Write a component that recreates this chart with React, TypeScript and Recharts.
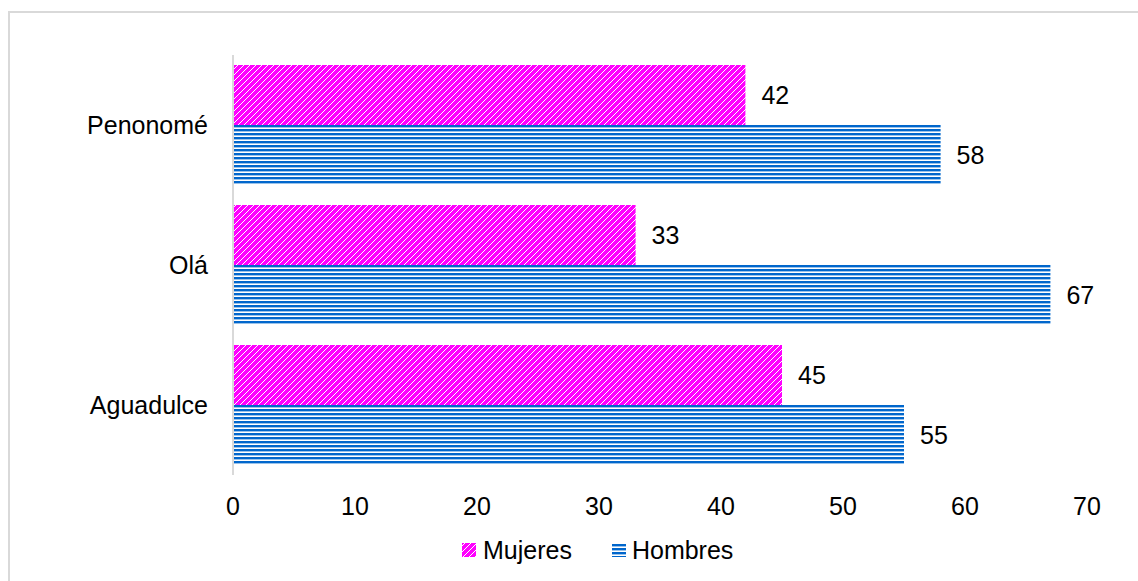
import React from "react";
import { BarChart, Bar, XAxis, YAxis, LabelList } from "recharts";

const towns = ["Penonomé", "Olá", "Aguadulce"];
const mujeres = [42, 33, 45];
const hombres = [58, 67, 55];
const xTicks = [0, 10, 20, 30, 40, 50, 60, 70];

const FONT = "'Liberation Sans', Arial, sans-serif";
const PINK = "#FF00FF";
const BLUE = "#0066CC";

export default function App() {
  const data = towns.map((t, i) => ({
    town: t,
    mujeres: mujeres[i],
    hombres: hombres[i],
  }));

  return (
    <div
      style={{
        position: "fixed",
        top: 0,
        left: 0,
        width: 1138,
        height: 581,
        overflow: "hidden",
        background: "#fff",
        fontFamily: FONT,
      }}
    >
      <svg width={0} height={0} style={{ position: "absolute" }}>
        <defs>
          <pattern
            id="diagPink"
            patternUnits="userSpaceOnUse"
            width={6}
            height={6}
          >
            <rect width={6} height={6} fill="#fff" />
            <path
              d="M-1,1 l2,-2 M0,6 l6,-6 M5,7 l2,-2"
              stroke={PINK}
              strokeWidth={3}
              shapeRendering="crispEdges"
            />
          </pattern>
          <pattern
            id="horizBlue"
            patternUnits="userSpaceOnUse"
            width={4}
            height={4}
          >
            <rect width={4} height={4} fill="#fff" />
            <rect y={1} width={4} height={2.4} fill={BLUE} />
          </pattern>
        </defs>
      </svg>

      {/* outer chart frame */}
      <div
        style={{
          position: "absolute",
          left: 8,
          top: 11,
          width: 1200,
          height: 700,
          border: "2px solid #d9d9d9",
        }}
      />

      <div style={{ position: "absolute", left: 0, top: 0 }}>
        <BarChart
          width={1138}
          height={581}
          data={data}
          layout="vertical"
          margin={{ top: 55, right: 51, bottom: 46, left: 0 }}
          barCategoryGap={10}
          barGap={0}
        >
          <XAxis
            type="number"
            domain={[0, 70]}
            ticks={xTicks}
            axisLine={false}
            tickLine={false}
            tickMargin={16}
            height={60}
            tick={{ fill: "#000", fontSize: 25, fontFamily: FONT }}
          />
          <YAxis
            type="category"
            dataKey="town"
            width={233}
            axisLine={{ stroke: "#d9d9d9", strokeWidth: 2 }}
            tickLine={false}
            tickMargin={19}
            tick={{ fill: "#000", fontSize: 25, fontFamily: FONT }}
          />
          <Bar
            dataKey="mujeres"
            fill="url(#diagPink)"
            isAnimationActive={false}
          >
            <LabelList
              dataKey="mujeres"
              position="right"
              offset={16}
              fill="#000"
              fontSize={25}
              fontFamily={FONT}
            />
          </Bar>
          <Bar
            dataKey="hombres"
            fill="url(#horizBlue)"
            isAnimationActive={false}
          >
            <LabelList
              dataKey="hombres"
              position="right"
              offset={16}
              fill="#000"
              fontSize={25}
              fontFamily={FONT}
            />
          </Bar>
        </BarChart>
      </div>

      {/* legend */}
      <div
        style={{
          position: "absolute",
          left: 462,
          top: 535,
          display: "flex",
          alignItems: "center",
          fontSize: 25,
          color: "#000",
          lineHeight: "30px",
        }}
      >
        <svg width={14} height={14} style={{ marginRight: 7 }}>
          <rect width={14} height={14} fill="url(#diagPink)" />
        </svg>
        <span>Mujeres</span>
        <svg width={14} height={14} style={{ marginLeft: 40, marginRight: 6 }}>
          <rect width={14} height={14} fill="url(#horizBlue)" />
        </svg>
        <span>Hombres</span>
      </div>
    </div>
  );
}
